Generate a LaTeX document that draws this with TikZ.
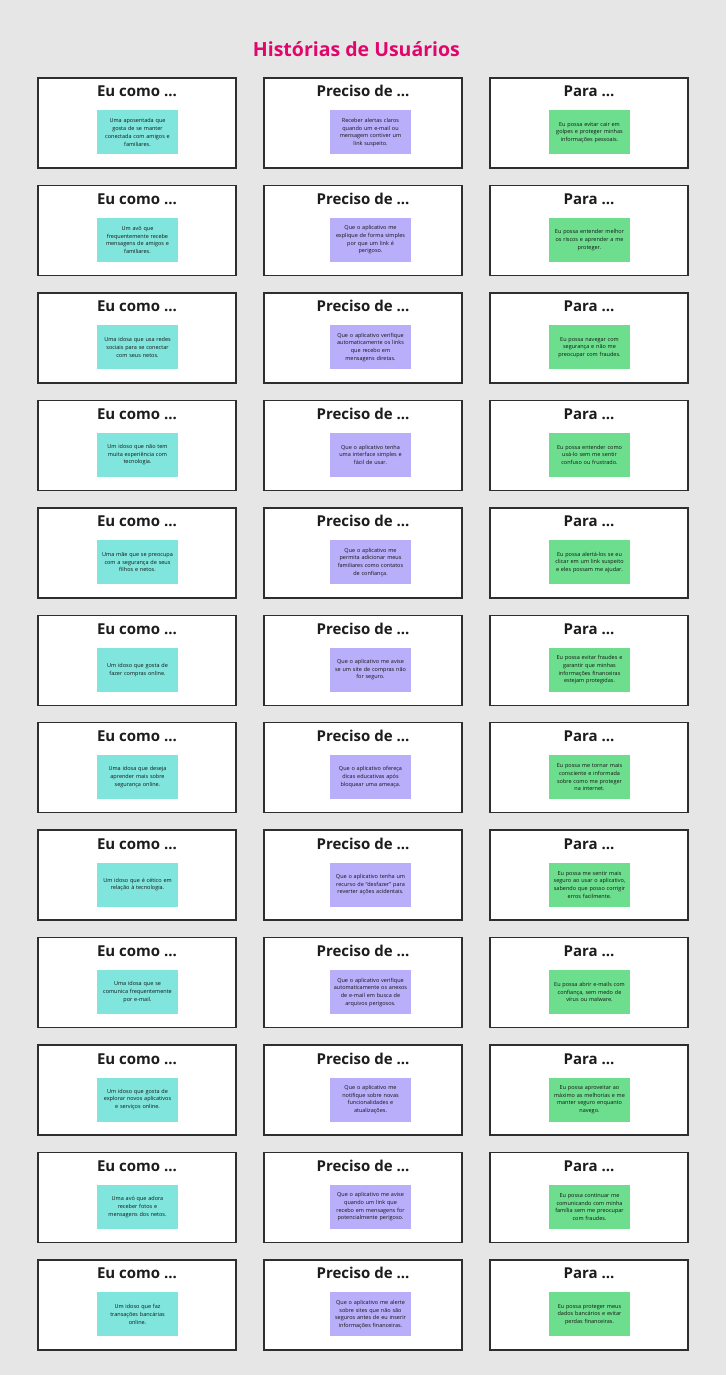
\documentclass[tikz,border=0pt]{standalone}
\usepackage{fontspec}
\setmainfont{Open Sans}
\definecolor{bg}{HTML}{E6E6E6}
\definecolor{cardline}{HTML}{2E2E2E}
\definecolor{titlepink}{HTML}{E0066C}
\definecolor{cyannote}{HTML}{80E6DD}
\definecolor{purplenote}{HTML}{B9AEFA}
\definecolor{greennote}{HTML}{6DDE8E}
\definecolor{notetext}{HTML}{141414}
\definecolor{headtext}{HTML}{1C1C1C}
\newcommand\storyrow[4]{%
  \pgfmathsetmacro\yt{78+(#1-1)*107.45}%
  \node[card] (c#1a) at (137,\yt+45) {};
  \node[card] (c#1b) at (363,\yt+45) {};
  \node[card] (c#1c) at (589,\yt+45) {};
  \node[head] (h#1a) at (137,\yt+19) {Eu como ...};
  \node[head] (h#1b) at (363,\yt+19) {Preciso de ...};
  \node[head] (h#1c) at (589,\yt+19) {Para ...};
  \node[note,fill=cyannote] (n#1a) at (137.5,\yt+54.5) {#2};
  \node[note,fill=purplenote] (n#1b) at (370.5,\yt+54.5) {#3};
  \node[note,fill=greennote] (n#1c) at (589.5,\yt+54.5) {#4};
}
\begin{document}
\begin{tikzpicture}[x=1pt,y=-1pt,
  card/.style={draw=cardline,line width=1.5pt,fill=white,minimum width=198pt,minimum height=90pt,inner sep=0pt},
  head/.style={anchor=base,inner sep=0pt,text=headtext,font=\fontsize{15}{18}\selectfont\bfseries},
  note/.style={minimum width=81pt,minimum height=44pt,inner sep=0pt,text width=79pt,align=center,text=notetext,font=\fontsize{5.5}{7.7}\selectfont}]
\fill[bg] (0,0) rectangle (726,1375);
\useasboundingbox (0,0) rectangle (726,1375);
\node[anchor=base,inner sep=0pt,text=titlepink,font=\fontsize{19.5}{23}\selectfont\bfseries] (title) at (356.4,56.7) {Histórias de Usuários};
\storyrow{1}{Uma aposentada que\\gosta de se manter\\conectada com amigos e\\familiares.}{Receber alertas claros\\quando um e-mail ou\\mensagem contiver um\\link suspeito.}{Eu possa evitar cair em\\golpes e proteger minhas\\informações pessoais.}
\storyrow{2}{Um avô que\\frequentemente recebe\\mensagens de amigos e\\familiares.}{Que o aplicativo me\\explique de forma simples\\por que um link é\\perigoso.}{Eu possa entender melhor\\os riscos e aprender a me\\proteger.}
\storyrow{3}{Uma idosa que usa redes\\sociais para se conectar\\com seus netos.}{Que o aplicativo verifique\\automaticamente os links\\que recebo em\\mensagens diretas.}{Eu possa navegar com\\segurança e não me\\preocupar com fraudes.}
\storyrow{4}{Um idoso que não tem\\muita experiência com\\tecnologia.}{Que o aplicativo tenha\\uma interface simples e\\fácil de usar.}{Eu possa entender como\\usá-lo sem me sentir\\confuso ou frustrado.}
\storyrow{5}{Uma mãe que se preocupa\\com a segurança de seus\\filhos e netos.}{Que o aplicativo me\\permita adicionar meus\\familiares como contatos\\de confiança.}{Eu possa alertá-los se eu\\clicar em um link suspeito\\e eles possam me ajudar.}
\storyrow{6}{Um idoso que gosta de\\fazer compras online.}{Que o aplicativo me avise\\se um site de compras não\\for seguro.}{Eu possa evitar fraudes e\\garantir que minhas\\informações financeiras\\estejam protegidas.}
\storyrow{7}{Uma idosa que deseja\\aprender mais sobre\\segurança online.}{Que o aplicativo ofereça\\dicas educativas após\\bloquear uma ameaça.}{Eu possa me tornar mais\\consciente e informada\\sobre como me proteger\\na internet.}
\storyrow{8}{Um idoso que é cético em\\relação à tecnologia.}{Que o aplicativo tenha um\\recurso de “desfazer” para\\reverter ações acidentais.}{Eu possa me sentir mais\\seguro ao usar o aplicativo,\\sabendo que posso corrigir\\erros facilmente.}
\storyrow{9}{Uma idosa que se\\comunica frequentemente\\por e-mail.}{Que o aplicativo verifique\\automaticamente os anexos\\de e-mail em busca de\\arquivos perigosos.}{Eu possa abrir e-mails com\\confiança, sem medo de\\vírus ou malware.}
\storyrow{10}{Um idoso que gosta de\\explorar novos aplicativos\\e serviços online.}{Que o aplicativo me\\notifique sobre novas\\funcionalidades e\\atualizações.}{Eu possa aproveitar ao\\máximo as melhorias e me\\manter seguro enquanto\\navego.}
\storyrow{11}{Uma avó que adora\\receber fotos e\\mensagens dos netos.}{Que o aplicativo me avise\\quando um link que\\recebo em mensagens for\\potencialmente perigoso.}{Eu possa continuar me\\comunicando com minha\\família sem me preocupar\\com fraudes.}
\storyrow{12}{Um idoso que faz\\transações bancárias\\online.}{Que o aplicativo me alerte\\sobre sites que não são\\seguros antes de eu inserir\\informações financeiras.}{Eu possa proteger meus\\dados bancários e evitar\\perdas financeiras.}
\end{tikzpicture}
\end{document}
